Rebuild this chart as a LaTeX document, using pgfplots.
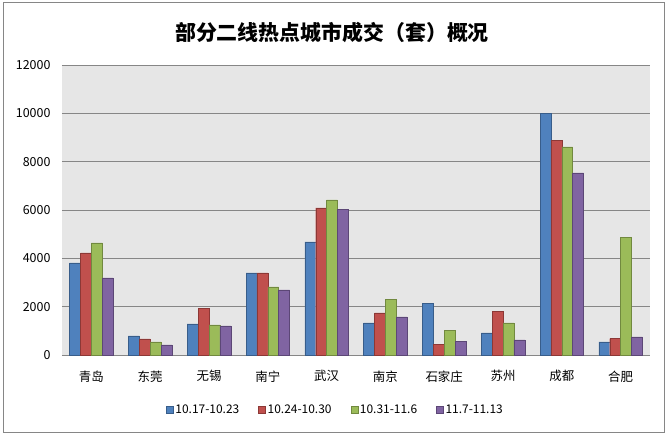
\documentclass[border=0pt]{standalone}
\usepackage{fontspec}
\setmainfont{Noto Sans CJK SC}
\usepackage{pgfplots}
\usepackage{pgfplotstable}
\usetikzlibrary{backgrounds}
\pgfplotsset{compat=1.18}
\definecolor{cA}{HTML}{4F81BD}\definecolor{cAb}{HTML}{385D8A}
\definecolor{cB}{HTML}{C0504D}\definecolor{cBb}{HTML}{8C3836}
\definecolor{cC}{HTML}{9BBB59}\definecolor{cCb}{HTML}{71893F}
\definecolor{cD}{HTML}{8064A2}\definecolor{cDb}{HTML}{5C4776}
\definecolor{plotbg}{RGB}{230,230,230}
\definecolor{gridc}{RGB}{134,134,134}
\pgfplotstableread{
x a b c d
0 3810 4224 4638 3188
1 787 662 538 414
2 1283 1917 1242 1200
3 3395 3395 2815 2691
4 4679 6087 6418 6030
5 1325 1739 2290 1573
6 2124 455 1006 551
7 911 1793 1325 621
8 10000 8874 8613 7536
9 538 675 4857 745
}\datatable
\begin{document}
\begin{tikzpicture}
\begin{axis}[
  scale only axis, width=588bp, height=290bp,
  xmin=-0.5, xmax=9.5, ymin=0, ymax=12000,
  ybar=0pt, bar width=0.185,
  axis background/.style={fill=plotbg},
  axis line style={draw=none},
  major tick length=0pt,
  xtick={0,...,9},
  xticklabels={青岛,东莞,无锡,南宁,武汉,南京,石家庄,苏州,成都,合肥},
  ytick={0,2000,...,12000},
  scaled y ticks=false,
  ymajorgrids, grid style={gridc, line width=0.8bp},
  /pgf/number format/1000 sep={},
  /pgf/number format/assume math mode=true,
  tick label style={font=\fontsize{12.5}{14}\selectfont},
  yticklabel style={xshift=-8bp},
  xticklabel style={yshift=-12bp},
  legend image code/.code={\draw[#1] (0bp,-3.5bp) rectangle (7bp,3.5bp);},
  legend style={at={(0.465,-0.19)}, anchor=center, legend columns=4, draw=none, fill=none,
    font=\fontsize{12}{13}\selectfont,
    /tikz/every even column/.append style={column sep=17bp}},
  clip=false,
]
\coordinate (O) at (rel axis cs:0,0);
\addplot[fill=cA, draw=cAb] table[x=x,y=a] {\datatable};
\addplot[fill=cB, draw=cBb] table[x=x,y=b] {\datatable};
\addplot[fill=cC, draw=cCb] table[x=x,y=c] {\datatable};
\addplot[fill=cD, draw=cDb] table[x=x,y=d] {\datatable};
\legend{10.17-10.23,10.24-10.30,10.31-11.6,11.7-11.13}
\end{axis}
\begin{scope}[x=1bp,y=1bp,shift={(O)}]
\begin{pgfonlayer}{background}
\fill[white] (-62,-80) rectangle (606,355);
\end{pgfonlayer}
\path[use as bounding box] (-62,-80) rectangle (606,355);
\draw[gridc, line width=0.8bp] (-58.5,-77) rectangle (602,353);
\node[font=\bfseries\fontsize{21}{24}\selectfont] at (270,322) {部分二线热点城市成交（套）概况};
\end{scope}
\end{tikzpicture}
\end{document}
